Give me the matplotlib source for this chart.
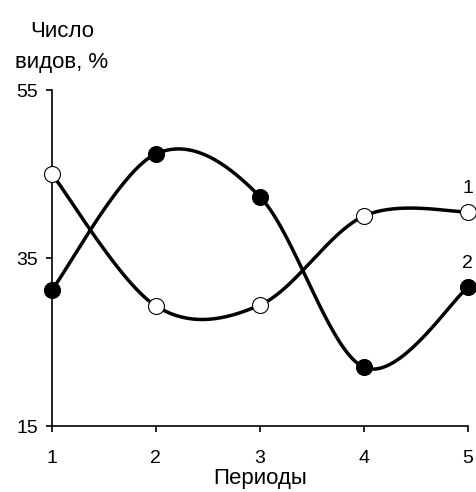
# Smoothed two-series chart of species share over periods.

import numpy as np
import matplotlib
matplotlib.use("Agg")
import matplotlib.pyplot as plt

plt.rcParams['font.family'] = ['Liberation Sans', 'DejaVu Sans']

periods = [1, 2, 3, 4, 5]
series_1 = [45.0, 29.3, 29.4, 40.0, 40.5]   # open circles
series_2 = [31.2, 47.4, 42.3, 22.0, 31.5]   # filled circles
y_ticks = [15, 35, 55]


def smooth(xs, ys, n=40):
    # Excel-like smoothed line: cubic Bezier with Catmull-Rom tangents
    p = np.column_stack([xs, ys]).astype(float)
    out = []
    for i in range(len(p) - 1):
        p0 = p[i - 1] if i > 0 else p[i]
        p3 = p[i + 2] if i + 2 < len(p) else p[i + 1]
        c1 = p[i] + (p[i + 1] - p0) / 6
        c2 = p[i + 1] - (p3 - p[i]) / 6
        t = np.linspace(0, 1, n)[:, None]
        seg = ((1 - t) ** 3 * p[i] + 3 * (1 - t) ** 2 * t * c1
               + 3 * (1 - t) * t ** 2 * c2 + t ** 3 * p[i + 1])
        out.append(seg if i == 0 else seg[1:])
    out = np.vstack(out)
    return out[:, 0], out[:, 1]


fig = plt.figure(figsize=(4.76, 4.92), dpi=100)
ax = fig.add_axes([0.109, 0.134, 0.874, 0.683])

for vals, face in [(series_1, 'white'), (series_2, 'black')]:
    sx, sy = smooth(periods, vals)
    ax.plot(sx, sy, color='black', linewidth=2.5, clip_on=False, zorder=2)
    ax.plot(periods, vals, linestyle='none', marker='o', markersize=11.5,
            markerfacecolor=face, markeredgecolor='black', markeredgewidth=0.8,
            clip_on=False, zorder=3)

ax.text(periods[-1], series_1[-1] + 2.8, '1', ha='center', va='center', fontsize=14)
ax.text(periods[-1], series_2[-1] + 2.8, '2', ha='center', va='center', fontsize=14)

ax.set_xlim(1, 5)
ax.set_ylim(15, 55)
ax.set_xticks(periods)
ax.set_yticks(y_ticks)
ax.spines['top'].set_visible(False)
ax.spines['right'].set_visible(False)
for s in ['left', 'bottom']:
    ax.spines[s].set_linewidth(1.2)
ax.tick_params(axis='both', direction='out', length=4, width=1.2, labelsize=14)
ax.tick_params(axis='y', pad=6)
ax.tick_params(axis='x', pad=13)
ax.set_xlabel('Периоды', fontsize=16, labelpad=1)

fig.text(62 / 476, 1 - 47 / 492, 'Число\nвидов, %', ha='center', va='center',
         fontsize=16, linespacing=1.65)

fig.savefig('out.png', dpi=100)
